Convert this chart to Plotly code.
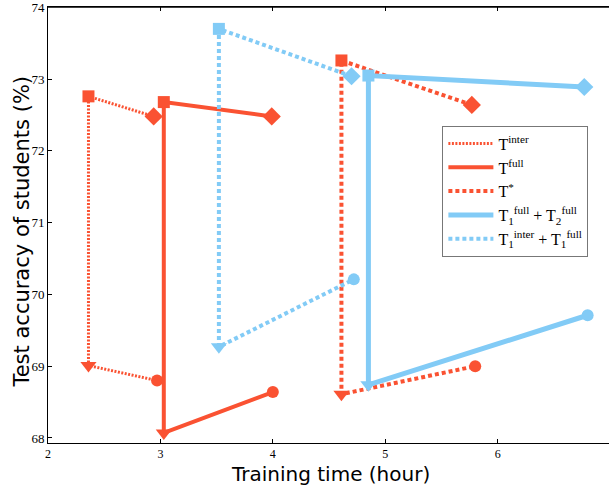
import plotly.graph_objects as go

# Each series: points in order diamond -> square -> triangle -> circle
series_names = [
    "T<sup>inter</sup>",
    "T<sup>full</sup>",
    "T<sup>*</sup>",
    "T<sub>1</sub><sup>full</sup> + T<sub>2</sub><sup>full</sup>",
    "T<sub>1</sub><sup>inter</sup> + T<sub>1</sub><sup>full</sup>",
]
t_inter_x = [2.94, 2.36, 2.36, 2.97]
t_inter_y = [72.48, 72.76, 69.01, 68.80]
t_full_x = [3.99, 3.03, 3.03, 4.00]
t_full_y = [72.48, 72.68, 68.07, 68.64]
t_star_x = [5.77, 4.61, 4.61, 5.80]
t_star_y = [72.64, 73.26, 68.61, 69.00]
t12_full_x = [6.77, 4.85, 4.85, 6.80]
t12_full_y = [72.89, 73.05, 68.74, 69.71]
t11_inter_x = [4.70, 3.52, 3.52, 4.72]
t11_inter_y = [73.04, 73.70, 69.27, 70.21]

x_ticks = [2, 3, 4, 5, 6]
y_ticks = [68, 69, 70, 71, 72, 73, 74]

RED = "#FA5232"
BLUE = "#82CBF6"
styles = [
    dict(color=RED, width=3, dash="2px,1.5px"),
    dict(color=RED, width=4, dash="solid"),
    dict(color=RED, width=4, dash="4px,3px"),
    dict(color=BLUE, width=5, dash="solid"),
    dict(color=BLUE, width=4, dash="4px,3px"),
]
xs = [t_inter_x, t_full_x, t_star_x, t12_full_x, t11_inter_x]
ys = [t_inter_y, t_full_y, t_star_y, t12_full_y, t11_inter_y]
symbols = ["diamond", "square", "triangle-down", "circle"]
sizes = [14, 12, 14, 12]

fig = go.Figure()
for name, x, y, st in zip(series_names, xs, ys, styles):
    fig.add_trace(go.Scatter(x=x, y=y, mode="lines", name=name, line=st))
for x, y, st in zip(xs, ys, styles):
    fig.add_trace(go.Scatter(x=x, y=y, mode="markers", showlegend=False,
                             marker=dict(symbol=symbols, size=sizes, color=st["color"],
                                         opacity=1, line=dict(width=0))))

serif = "Liberation Serif"
fig.update_layout(
    width=609, height=485,
    margin=dict(l=48, r=0, t=7, b=42),
    plot_bgcolor="white", paper_bgcolor="white",
    showlegend=True,
    legend=dict(x=0.703, y=0.728, xanchor="left", yanchor="top",
                bordercolor="#777777", borderwidth=1, bgcolor="white",
                font=dict(family=serif, size=16, color="black"),
                tracegroupgap=1, itemwidth=45),
    annotations=[
        dict(text="Test accuracy of students (%)", textangle=-90,
             xref="paper", yref="paper", x=-0.0463, y=0.485,
             xanchor="center", yanchor="middle", showarrow=False,
             font=dict(family="DejaVu Sans", size=21, color="black")),
        dict(text="Training time (hour)",
             xref="paper", yref="paper", x=0.503, y=-0.072,
             xanchor="center", yanchor="middle", showarrow=False,
             font=dict(family="DejaVu Sans", size=20, color="black")),
    ],
    shapes=[dict(type="line", xref="paper", yref="paper", x0=0, x1=1, y0=1, y1=1,
                 line=dict(color="black", width=1.5))],
)
fig.update_xaxes(
    range=[2, 6.99], tickvals=x_ticks, ticktext=[str(v) for v in x_ticks],
    automargin=False, ticklabeloverflow="allow",
    showgrid=False, zeroline=False, showline=True, linecolor="black", linewidth=1,
    mirror="ticks", ticks="inside", ticklen=4, tickcolor="black",
    tickfont=dict(family=serif, size=12, color="black"),
)
fig.update_yaxes(
    range=[67.93, 74.005], tickvals=y_ticks, ticktext=[str(v) for v in y_ticks],
    automargin=False, ticklabeloverflow="allow",
    showgrid=False, zeroline=False, showline=True, linecolor="black", linewidth=1,
    ticks="inside", ticklen=4, tickcolor="black",
    tickfont=dict(family=serif, size=13, color="black"),
)
fig.write_html("out.html", config={"displayModeBar": False},
               post_script="document.body.style.margin='0';")
